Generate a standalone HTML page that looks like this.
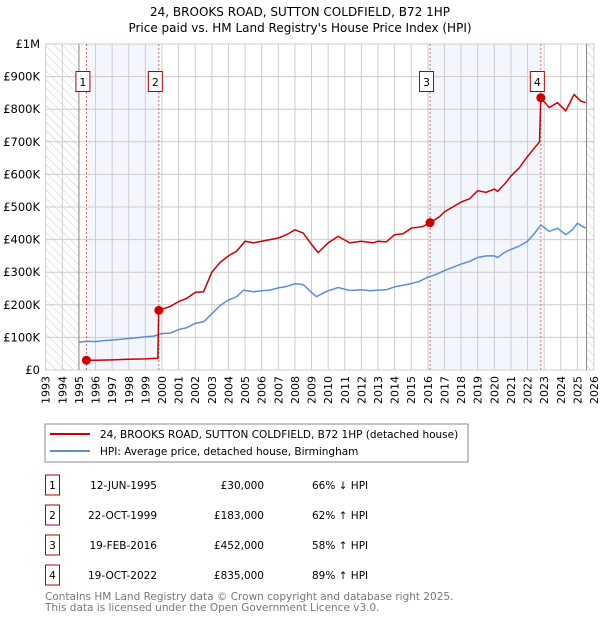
<!DOCTYPE html>
<html><head><meta charset="utf-8"><style>
body{margin:0;background:#fff;font-family:"DejaVu Sans","Liberation Sans",sans-serif;}
svg text{font-family:"DejaVu Sans","Liberation Sans",sans-serif;}
</style></head><body>
<svg id="c" width="600" height="620" viewBox="0 0 600 620">
<defs><pattern id="hatch" width="6" height="6" patternUnits="userSpaceOnUse" patternTransform="rotate(-45)"><line x1="0" y1="0" x2="0" y2="6" stroke="#ccc" stroke-width="1"/></pattern></defs>
<text x="300" y="16" text-anchor="middle" font-size="12">24, BROOKS ROAD, SUTTON COLDFIELD, B72 1HP</text>
<text x="300" y="32" text-anchor="middle" font-size="12">Price paid vs. HM Land Registry's House Price Index (HPI)</text>
<g id="plot"></g>
<rect x="45" y="424" width="423" height="38" fill="#fff" stroke="#888"/>
<line x1="50" y1="434" x2="90" y2="434" stroke="#cc0000" stroke-width="2"/>
<text x="100" y="438" font-size="10.5">24, BROOKS ROAD, SUTTON COLDFIELD, B72 1HP (detached house)</text>
<line x1="50" y1="451" x2="90" y2="451" stroke="#5b8fd4" stroke-width="2"/>
<text x="100" y="455" font-size="10.5">HPI: Average price, detached house, Birmingham</text>
<g id="table"></g>
<text x="45" y="600" font-size="10.5" fill="#777">Contains HM Land Registry data © Crown copyright and database right 2025.</text>
<text x="45" y="611" font-size="10.5" fill="#777">This data is licensed under the Open Government Licence v3.0.</text>
</svg>
<script>
const yTickValues=[0,100,200,300,400,500,600,700,800,900,1000];
const yTickLabels=["£0","£100K","£200K","£300K","£400K","£500K","£600K","£700K","£800K","£900K","£1M"];
const xYears=[1993,1994,1995,1996,1997,1998,1999,2000,2001,2002,2003,2004,2005,2006,2007,2008,2009,2010,2011,2012,2013,2014,2015,2016,2017,2018,2019,2020,2021,2022,2023,2024,2025,2026];
const hpiX=[1995,1995.5,1996,1996.5,1997,1997.5,1998,1998.5,1999,1999.5,2000,2000.5,2001,2001.5,2002,2002.5,2003,2003.5,2004,2004.5,2004.9,2005.5,2006,2006.5,2007,2007.5,2008,2008.5,2009,2009.3,2009.7,2010,2010.6,2011.3,2012,2012.5,2013,2013.5,2014,2014.5,2015,2015.5,2016,2016.5,2017,2017.5,2018,2018.5,2019,2019.5,2020,2020.2,2020.6,2021,2021.5,2022,2022.4,2022.8,2023.3,2023.8,2024.3,2024.7,2025,2025.5];
const hpiY=[85,88,87,90,92,94,97,99,102,104,112,113,124,130,143,148,172,198,215,225,245,240,243,245,252,256,265,262,238,225,236,243,253,244,246,243,245,246,255,260,265,272,285,293,305,315,325,333,345,350,350,345,360,370,380,395,418,445,425,435,415,430,450,435];
const priceX=[1995.45,1996,1997,1998,1999,1999.75,1999.8,2000.5,2001,2001.5,2002,2002.5,2003,2003.5,2004,2004.5,2005,2005.5,2006,2006.5,2007,2007.5,2008,2008.5,2009,2009.4,2010,2010.6,2011.3,2012,2012.7,2013,2013.5,2014,2014.5,2015,2015.7,2016.13,2016.7,2017,2017.5,2018,2018.5,2019,2019.5,2020,2020.2,2020.7,2021,2021.5,2022,2022.4,2022.72,2022.8,2023.3,2023.8,2024.3,2024.8,2025.2,2025.5];
const priceY=[30,30,31,33,34,36,183,195,210,220,238,240,300,330,350,365,395,390,395,400,405,415,430,420,385,360,390,410,390,395,390,395,393,415,418,435,440,452,470,485,500,515,525,550,545,555,548,575,595,620,655,680,700,835,805,820,795,845,825,820];
const saleLabels=["1","2","3","4"];
const saleYears=[1995.45,1999.81,2016.13,2022.8];
const saleValues=[30,183,452,835];
const saleDates=["12-JUN-1995","22-OCT-1999","19-FEB-2016","19-OCT-2022"];
const salePrices=["£30,000","£183,000","£452,000","£835,000"];
const saleHpi=["66% ↓ HPI","62% ↑ HPI","58% ↑ HPI","89% ↑ HPI"];

const NS="http://www.w3.org/2000/svg";
const X0=45.7,X1=594,Y0=370,Y1=44;
const xs=y=>X0+(y-1993)*(X1-X0)/33;
const ys=v=>Y0-(v/1000)*(Y0-Y1);
const g=document.getElementById('plot');
function mk(tag,attrs,parent){const e=document.createElementNS(NS,tag);for(const k in attrs)e.setAttribute(k,attrs[k]);(parent||g).appendChild(e);return e;}
let e;
e=mk('rect',{x:X0,y:Y1,width:X1-X0,height:Y0-Y1,fill:'#fff'});


e=mk('rect',{x:X0,y:Y1,width:xs(1995)-X0,height:Y0-Y1,fill:'url(#hatch)'});


e=mk('rect',{x:xs(2025.55),y:Y1,width:X1-xs(2025.55),height:Y0-Y1,fill:'url(#hatch)'});


[[0,1],[2,3]].forEach(p=>{
 e=mk('rect',{x:xs(saleYears[p[0]]),y:Y1,width:xs(saleYears[p[1]])-xs(saleYears[p[0]]),height:Y0-Y1,fill:'#eef3fc',opacity:0.7});
 
 
});
xYears.forEach(y=>{
 e=mk('line',{x1:xs(y),x2:xs(y),y1:Y1,y2:Y0,stroke:'#ccc','stroke-width':1});
 
 
 e=mk('text',{transform:`translate(${xs(y)+4},${Y0+6}) rotate(-90)`,'text-anchor':'end','font-size':11});
 e.textContent=y;
 
 
});
yTickValues.forEach((v,i)=>{
 e=mk('line',{x1:X0,x2:X1,y1:ys(v),y2:ys(v),stroke:'#ccc','stroke-width':1});
 
 
 e=mk('text',{x:40,y:ys(v)+4,'text-anchor':'end','font-size':11.5});
 e.textContent=yTickLabels[i];
 
 
});
e=mk('line',{x1:xs(1995),x2:xs(1995),y1:Y1,y2:Y0,stroke:'#888'});


e=mk('line',{x1:xs(2025.55),x2:xs(2025.55),y1:Y1,y2:Y0,stroke:'#888'});


saleYears.forEach((y,i)=>{
 e=mk('line',{x1:xs(y),x2:xs(y),y1:Y1,y2:Y0,stroke:'#e06060','stroke-dasharray':'2,2'});
 
 
 e=mk('rect',{x:xs(y)-10.5,y:71.5,width:14,height:20,fill:'#fff',stroke:'#b00000'});
 
 
 e=mk('text',{x:xs(y)-3.5,y:86,'text-anchor':'middle','font-size':11});
 e.textContent=saleLabels[i];
 
 
});
e=mk('polyline',{points:hpiX.map((x,i)=>xs(x)+','+ys(hpiY[i])).join(' '),fill:'none',stroke:'#5b8fd4','stroke-width':1.5});


e=mk('polyline',{points:priceX.map((x,i)=>xs(x)+','+ys(priceY[i])).join(' '),fill:'none',stroke:'#cc0000','stroke-width':1.5});


saleYears.forEach((y,i)=>{
 e=mk('circle',{cx:xs(y),cy:ys(saleValues[i]),r:4.5,fill:'#cc0000'});
 
 
});
const t=document.getElementById('table');
saleLabels.forEach((l,i)=>{
 const cy=485+i*30;
 e=mk('rect',{x:45.5,y:cy-10,width:14,height:20,fill:'#fff',stroke:'#b00000'},t);
 
 
 e=mk('text',{x:52.5,y:cy+4,'text-anchor':'middle','font-size':10.5},t);e.textContent=l;
 
 
 e=mk('text',{x:157,y:cy+4,'text-anchor':'end','font-size':10.5},t);e.textContent=saleDates[i];
 
 
 e=mk('text',{x:264,y:cy+4,'text-anchor':'end','font-size':10.5},t);e.textContent=salePrices[i];
 
 
 e=mk('text',{x:312,y:cy+4,'font-size':10.5},t);e.textContent=saleHpi[i];
 
 
});
</script>
</body></html>
